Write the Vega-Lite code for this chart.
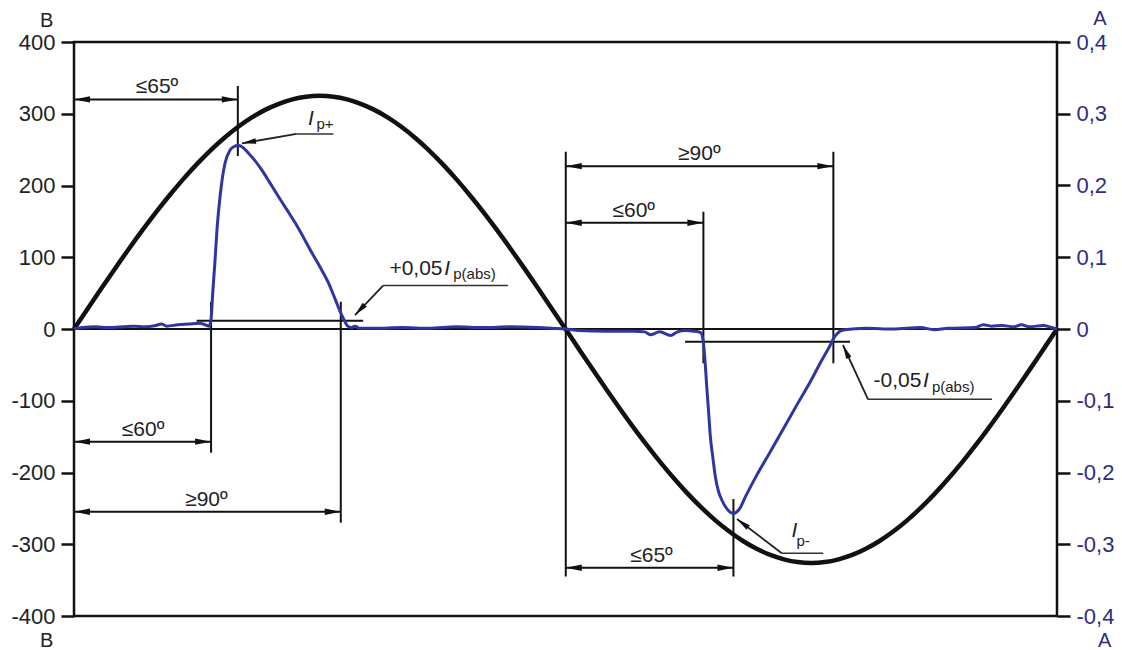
{
  "$schema": "https://vega.github.io/schema/vega-lite/v6.json",
  "width": 983,
  "height": 574,
  "autosize": "none",
  "padding": {"left": 74, "top": 42, "right": 65, "bottom": 34},
  "background": "white",
  "config": {
    "view": {"stroke": "#111111", "strokeWidth": 2.5},
    "font": "Liberation Sans",
    "text": {"font": "Liberation Sans"}
  },
  "datasets": {
    "sine": [
      {"x": 0, "y": 0}, {"x": 5, "y": 28.3}, {"x": 10, "y": 56.4}, {"x": 15, "y": 84.1}, {"x": 20, "y": 111.2},
      {"x": 25, "y": 137.4}, {"x": 30, "y": 162.5}, {"x": 35, "y": 186.4}, {"x": 40, "y": 208.9}, {"x": 45, "y": 229.8},
      {"x": 50, "y": 249.0}, {"x": 55, "y": 266.2}, {"x": 60, "y": 281.5}, {"x": 65, "y": 294.6}, {"x": 70, "y": 305.4},
      {"x": 75, "y": 313.9}, {"x": 80, "y": 320.1}, {"x": 85, "y": 323.8}, {"x": 90, "y": 325}, {"x": 95, "y": 323.8},
      {"x": 100, "y": 320.1}, {"x": 105, "y": 313.9}, {"x": 110, "y": 305.4}, {"x": 115, "y": 294.6}, {"x": 120, "y": 281.5},
      {"x": 125, "y": 266.2}, {"x": 130, "y": 249.0}, {"x": 135, "y": 229.8}, {"x": 140, "y": 208.9}, {"x": 145, "y": 186.4},
      {"x": 150, "y": 162.5}, {"x": 155, "y": 137.4}, {"x": 160, "y": 111.2}, {"x": 165, "y": 84.1}, {"x": 170, "y": 56.4},
      {"x": 175, "y": 28.3}, {"x": 180, "y": 0}, {"x": 185, "y": -28.4}, {"x": 190, "y": -56.6}, {"x": 195, "y": -84.4},
      {"x": 200, "y": -111.5}, {"x": 205, "y": -137.8}, {"x": 210, "y": -163}, {"x": 215, "y": -187}, {"x": 220, "y": -209.5},
      {"x": 225, "y": -230.5}, {"x": 230, "y": -249.7}, {"x": 235, "y": -267.1}, {"x": 240, "y": -282.3}, {"x": 245, "y": -295.5},
      {"x": 250, "y": -306.3}, {"x": 255, "y": -314.9}, {"x": 260, "y": -321}, {"x": 265, "y": -324.8}, {"x": 270, "y": -326},
      {"x": 275, "y": -324.8}, {"x": 280, "y": -321}, {"x": 285, "y": -314.9}, {"x": 290, "y": -306.3}, {"x": 295, "y": -295.5},
      {"x": 300, "y": -282.3}, {"x": 305, "y": -267.1}, {"x": 310, "y": -249.7}, {"x": 315, "y": -230.5}, {"x": 320, "y": -209.5},
      {"x": 325, "y": -187}, {"x": 330, "y": -163}, {"x": 335, "y": -137.8}, {"x": 340, "y": -111.5}, {"x": 345, "y": -84.4},
      {"x": 350, "y": -56.6}, {"x": 355, "y": -28.4}, {"x": 360, "y": 0}
    ],
    "current": [
      {"x": 0, "a": 0}, {"x": 3, "a": 0.002}, {"x": 8, "a": 0.003}, {"x": 12, "a": 0.002}, {"x": 18, "a": 0.003},
      {"x": 22, "a": 0.004}, {"x": 26, "a": 0.003}, {"x": 30, "a": 0.005}, {"x": 32, "a": 0.007}, {"x": 34, "a": 0.004},
      {"x": 38, "a": 0.006}, {"x": 42, "a": 0.007}, {"x": 46, "a": 0.008}, {"x": 48, "a": 0.006}, {"x": 49.5, "a": 0.004},
      {"x": 50.2, "a": 0.014}, {"x": 50.8, "a": 0.05}, {"x": 51.6, "a": 0.093}, {"x": 52.5, "a": 0.145}, {"x": 53.5, "a": 0.185},
      {"x": 54.4, "a": 0.212}, {"x": 55.3, "a": 0.231}, {"x": 57.1, "a": 0.249}, {"x": 58.5, "a": 0.254}, {"x": 60.0, "a": 0.2556},
      {"x": 61.5, "a": 0.254}, {"x": 63.9, "a": 0.245}, {"x": 66.2, "a": 0.235}, {"x": 68.7, "a": 0.222}, {"x": 71.7, "a": 0.204},
      {"x": 74.8, "a": 0.185}, {"x": 78, "a": 0.166}, {"x": 81, "a": 0.148}, {"x": 84, "a": 0.128}, {"x": 87, "a": 0.107},
      {"x": 90, "a": 0.087}, {"x": 93.1, "a": 0.065}, {"x": 95.5, "a": 0.043}, {"x": 97.4, "a": 0.025}, {"x": 99, "a": 0.012},
      {"x": 100, "a": 0.005}, {"x": 101.5, "a": 0.002}, {"x": 103, "a": 0.004}, {"x": 104.5, "a": 0.001}, {"x": 110, "a": 0.001},
      {"x": 120, "a": 0.002}, {"x": 130, "a": 0.001}, {"x": 140, "a": 0.003}, {"x": 150, "a": 0.002}, {"x": 160, "a": 0.003},
      {"x": 170, "a": 0.002}, {"x": 175, "a": 0.001}, {"x": 180, "a": 0}, {"x": 185, "a": -0.002}, {"x": 195, "a": -0.003},
      {"x": 205, "a": -0.003}, {"x": 209, "a": -0.004}, {"x": 211, "a": -0.008}, {"x": 214.5, "a": -0.004}, {"x": 218.5, "a": -0.009},
      {"x": 221, "a": -0.004}, {"x": 224, "a": -0.002}, {"x": 227, "a": -0.003}, {"x": 229.5, "a": -0.005}, {"x": 230.5, "a": -0.019},
      {"x": 231.2, "a": -0.05}, {"x": 231.7, "a": -0.079}, {"x": 232.4, "a": -0.115}, {"x": 233, "a": -0.148}, {"x": 234, "a": -0.18},
      {"x": 234.8, "a": -0.204}, {"x": 236, "a": -0.226}, {"x": 237.2, "a": -0.238}, {"x": 239, "a": -0.25}, {"x": 241.5, "a": -0.257},
      {"x": 243.5, "a": -0.252}, {"x": 246, "a": -0.233}, {"x": 250, "a": -0.204}, {"x": 255, "a": -0.171}, {"x": 259.8, "a": -0.139},
      {"x": 265, "a": -0.104}, {"x": 269.6, "a": -0.074}, {"x": 273.5, "a": -0.046}, {"x": 276.9, "a": -0.023}, {"x": 278.5, "a": -0.011},
      {"x": 279.4, "a": -0.007}, {"x": 281, "a": -0.002}, {"x": 285, "a": 0.0}, {"x": 290, "a": 0.001}, {"x": 300, "a": 0.0},
      {"x": 310, "a": 0.002}, {"x": 315, "a": -0.001}, {"x": 320, "a": 0.001}, {"x": 330, "a": 0.002}, {"x": 333, "a": 0.006},
      {"x": 336, "a": 0.004}, {"x": 340, "a": 0.005}, {"x": 344, "a": 0.003}, {"x": 347, "a": 0.006}, {"x": 350, "a": 0.003},
      {"x": 355, "a": 0.005}, {"x": 358, "a": 0.002}, {"x": 360, "a": 0}
    ],
    "hlines": [
      {"x": 0, "x2": 360, "y": 0},
      {"x": 44.9, "x2": 105.9, "y": 11.6},
      {"x": 223.8, "x2": 284.2, "y": -17.7}
    ],
    "vlines": [
      {"x": 60.0, "y": 338.7, "y2": 241},
      {"x": 50.2, "y": 38, "y2": -172.4},
      {"x": 97.7, "y": 38, "y2": -270},
      {"x": 180.1, "y": 247, "y2": -345},
      {"x": 278.1, "y": 247, "y2": -47.8},
      {"x": 230.5, "y": 163.5, "y2": -47.8},
      {"x": 241.5, "y": -237, "y2": -345}
    ],
    "dims": [
      {"x": 0, "x2": 60.0, "y": 320, "label": "≤65º", "xm": 30.4},
      {"x": 0, "x2": 50.2, "y": -157, "label": "≤60º", "xm": 25.3},
      {"x": 0, "x2": 97.7, "y": -254.6, "label": "≥90º", "xm": 48.5},
      {"x": 180.1, "x2": 278.1, "y": 227, "label": "≥90º", "xm": 229},
      {"x": 180.1, "x2": 230.5, "y": 148, "label": "≤60º", "xm": 205},
      {"x": 180.1, "x2": 241.5, "y": -332.7, "label": "≤65º", "xm": 211.5}
    ],
    "leaders": [
      {"name": "ip_plus", "ux1": 81.5, "ux2": 95.0, "uy": 271.8, "tx": 61.5, "ty": 258.8},
      {"name": "thr_plus", "ux1": 113.2, "ux2": 158.9, "uy": 60.6, "tx": 102.9, "ty": 19.5},
      {"name": "thr_minus", "ux1": 290.8, "ux2": 336.2, "uy": -98, "tx": 281.6, "ty": -22.3},
      {"name": "ip_minus", "ux1": 259.2, "ux2": 274.4, "uy": -312.6, "tx": 242.8, "ty": -264.8}
    ],
    "texts": [
      {"t": "I", "x": 85.7, "y": 284.3, "kind": "ital"},
      {"t": "p+", "x": 88.8, "y": 278.7, "kind": "sub"},
      {"t": "+0,05", "x": 115.5, "y": 75.3, "kind": "main"},
      {"t": "I", "x": 135.6, "y": 75.3, "kind": "ital"},
      {"t": "p(abs)", "x": 138.9, "y": 69.3, "kind": "sub"},
      {"t": "-0,05", "x": 292.8, "y": -80.4, "kind": "main"},
      {"t": "I", "x": 310.9, "y": -80.4, "kind": "ital"},
      {"t": "p(abs)", "x": 314.2, "y": -87.4, "kind": "sub"},
      {"t": "I", "x": 262.8, "y": -289.5, "kind": "ital"},
      {"t": "p-", "x": 264.6, "y": -302, "kind": "sub"}
    ],
    "units": [
      {"t": "B", "x": -10.0, "y": 421.5, "side": "left"},
      {"t": "B", "x": -10.0, "y": -443.0, "side": "left"},
      {"t": "A", "x": 375.7, "y": 423.5, "side": "right"},
      {"t": "A", "x": 377.5, "y": -443.0, "side": "right"}
    ]
  },
  "layer": [
    {
      "data": {"name": "hlines"},
      "mark": {"type": "rule", "color": "#111111", "strokeWidth": 2},
      "encoding": {
        "x": {"field": "x", "type": "quantitative", "scale": {"domain": [0, 360], "nice": false, "zero": false}, "axis": null},
        "x2": {"field": "x2"},
        "y": {"field": "y", "type": "quantitative", "scale": {"domain": [-400, 400], "nice": false, "zero": false}, "axis": null}
      }
    },
    {
      "data": {"name": "sine"},
      "mark": {"type": "line", "color": "#111111", "strokeWidth": 4.5, "interpolate": "monotone"},
      "encoding": {
        "x": {"field": "x", "type": "quantitative", "scale": {"domain": [0, 360], "nice": false, "zero": false}, "axis": null},
        "y": {
          "field": "y", "type": "quantitative",
          "scale": {"domain": [-400, 400], "nice": false, "zero": false},
          "axis": {
            "orient": "left", "title": null, "grid": false, "domain": false,
            "values": [-400, -300, -200, -100, 0, 100, 200, 300, 400],
            "labelExpr": "'' + datum.value",
            "tickSize": 13, "tickWidth": 2.5, "tickColor": "#111111",
            "labelPadding": 6, "labelFontSize": 22, "labelColor": "#222222",
            "labelFont": "Liberation Sans", "labelOverlap": false, "labelBound": false, "labelFlush": false
          }
        }
      }
    },
    {
      "data": {"name": "vlines"},
      "mark": {"type": "rule", "color": "#111111", "strokeWidth": 2},
      "encoding": {
        "x": {"field": "x", "type": "quantitative", "scale": {"domain": [0, 360], "nice": false, "zero": false}, "axis": null},
        "y": {"field": "y", "type": "quantitative", "scale": {"domain": [-400, 400], "nice": false, "zero": false}, "axis": null},
        "y2": {"field": "y2"}
      }
    },
    {
      "data": {"name": "dims"},
      "mark": {"type": "rule", "color": "#111111", "strokeWidth": 2},
      "encoding": {
        "x": {"field": "x", "type": "quantitative", "scale": {"domain": [0, 360], "nice": false, "zero": false}, "axis": null},
        "x2": {"field": "x2"},
        "y": {"field": "y", "type": "quantitative", "scale": {"domain": [-400, 400], "nice": false, "zero": false}, "axis": null}
      }
    },
    {
      "data": {"name": "dims"},
      "mark": {"type": "point", "shape": "M0,0L-2,-0.4L-2,0.4Z", "filled": true, "color": "#111111", "size": 256, "angle": 180, "opacity": 1, "strokeWidth": 0},
      "encoding": {
        "x": {"field": "x", "type": "quantitative", "scale": {"domain": [0, 360], "nice": false, "zero": false}, "axis": null},
        "y": {"field": "y", "type": "quantitative", "scale": {"domain": [-400, 400], "nice": false, "zero": false}, "axis": null}
      }
    },
    {
      "data": {"name": "dims"},
      "mark": {"type": "point", "shape": "M0,0L-2,-0.4L-2,0.4Z", "filled": true, "color": "#111111", "size": 256, "angle": 0, "opacity": 1, "strokeWidth": 0},
      "encoding": {
        "x": {"field": "x2", "type": "quantitative", "scale": {"domain": [0, 360], "nice": false, "zero": false}, "axis": null},
        "y": {"field": "y", "type": "quantitative", "scale": {"domain": [-400, 400], "nice": false, "zero": false}, "axis": null}
      }
    },
    {
      "data": {"name": "dims"},
      "mark": {"type": "text", "fontSize": 21, "color": "#222222", "align": "center", "baseline": "alphabetic", "dy": -6},
      "encoding": {
        "x": {"field": "xm", "type": "quantitative", "scale": {"domain": [0, 360], "nice": false, "zero": false}, "axis": null},
        "y": {"field": "y", "type": "quantitative", "scale": {"domain": [-400, 400], "nice": false, "zero": false}, "axis": null},
        "text": {"field": "label"}
      }
    },
    {
      "data": {"name": "leaders"},
      "mark": {"type": "rule", "color": "#333333", "strokeWidth": 1.5},
      "encoding": {
        "x": {"field": "ux1", "type": "quantitative", "scale": {"domain": [0, 360], "nice": false, "zero": false}, "axis": null},
        "x2": {"field": "ux2"},
        "y": {"field": "uy", "type": "quantitative", "scale": {"domain": [-400, 400], "nice": false, "zero": false}, "axis": null}
      }
    },
    {
      "data": {"name": "leaders"},
      "mark": {"type": "rule", "color": "#222222", "strokeWidth": 1.8},
      "encoding": {
        "x": {"field": "ux1", "type": "quantitative", "scale": {"domain": [0, 360], "nice": false, "zero": false}, "axis": null},
        "x2": {"field": "tx"},
        "y": {"field": "uy", "type": "quantitative", "scale": {"domain": [-400, 400], "nice": false, "zero": false}, "axis": null},
        "y2": {"field": "ty"}
      }
    },
    {
      "data": {"name": "leaders"},
      "transform": [{"filter": {"field": "name", "equal": "ip_plus"}}],
      "mark": {"type": "point", "shape": "M0,0L-2,-0.4L-2,0.4Z", "filled": true, "color": "#111111", "size": 200, "angle": 170.3, "opacity": 1, "strokeWidth": 0},
      "encoding": {
        "x": {"field": "tx", "type": "quantitative", "scale": {"domain": [0, 360], "nice": false, "zero": false}, "axis": null},
        "y": {"field": "ty", "type": "quantitative", "scale": {"domain": [-400, 400], "nice": false, "zero": false}, "axis": null}
      }
    },
    {
      "data": {"name": "leaders"},
      "transform": [{"filter": {"field": "name", "equal": "thr_plus"}}],
      "mark": {"type": "point", "shape": "M0,0L-2,-0.4L-2,0.4Z", "filled": true, "color": "#111111", "size": 200, "angle": 133.5, "opacity": 1, "strokeWidth": 0},
      "encoding": {
        "x": {"field": "tx", "type": "quantitative", "scale": {"domain": [0, 360], "nice": false, "zero": false}, "axis": null},
        "y": {"field": "ty", "type": "quantitative", "scale": {"domain": [-400, 400], "nice": false, "zero": false}, "axis": null}
      }
    },
    {
      "data": {"name": "leaders"},
      "transform": [{"filter": {"field": "name", "equal": "thr_minus"}}],
      "mark": {"type": "point", "shape": "M0,0L-2,-0.4L-2,0.4Z", "filled": true, "color": "#111111", "size": 200, "angle": 245.3, "opacity": 1, "strokeWidth": 0},
      "encoding": {
        "x": {"field": "tx", "type": "quantitative", "scale": {"domain": [0, 360], "nice": false, "zero": false}, "axis": null},
        "y": {"field": "ty", "type": "quantitative", "scale": {"domain": [-400, 400], "nice": false, "zero": false}, "axis": null}
      }
    },
    {
      "data": {"name": "leaders"},
      "transform": [{"filter": {"field": "name", "equal": "ip_minus"}}],
      "mark": {"type": "point", "shape": "M0,0L-2,-0.4L-2,0.4Z", "filled": true, "color": "#111111", "size": 200, "angle": 217.5, "opacity": 1, "strokeWidth": 0},
      "encoding": {
        "x": {"field": "tx", "type": "quantitative", "scale": {"domain": [0, 360], "nice": false, "zero": false}, "axis": null},
        "y": {"field": "ty", "type": "quantitative", "scale": {"domain": [-400, 400], "nice": false, "zero": false}, "axis": null}
      }
    },
    {
      "data": {"name": "texts"},
      "transform": [{"filter": {"field": "kind", "equal": "main"}}],
      "mark": {"type": "text", "fontSize": 21, "color": "#222222", "align": "left", "baseline": "alphabetic"},
      "encoding": {
        "x": {"field": "x", "type": "quantitative", "scale": {"domain": [0, 360], "nice": false, "zero": false}, "axis": null},
        "y": {"field": "y", "type": "quantitative", "scale": {"domain": [-400, 400], "nice": false, "zero": false}, "axis": null},
        "text": {"field": "t"}
      }
    },
    {
      "data": {"name": "texts"},
      "transform": [{"filter": {"field": "kind", "equal": "ital"}}],
      "mark": {"type": "text", "fontSize": 21, "fontStyle": "italic", "color": "#222222", "align": "left", "baseline": "alphabetic"},
      "encoding": {
        "x": {"field": "x", "type": "quantitative", "scale": {"domain": [0, 360], "nice": false, "zero": false}, "axis": null},
        "y": {"field": "y", "type": "quantitative", "scale": {"domain": [-400, 400], "nice": false, "zero": false}, "axis": null},
        "text": {"field": "t"}
      }
    },
    {
      "data": {"name": "texts"},
      "transform": [{"filter": {"field": "kind", "equal": "sub"}}],
      "mark": {"type": "text", "fontSize": 15, "color": "#222222", "align": "left", "baseline": "alphabetic"},
      "encoding": {
        "x": {"field": "x", "type": "quantitative", "scale": {"domain": [0, 360], "nice": false, "zero": false}, "axis": null},
        "y": {"field": "y", "type": "quantitative", "scale": {"domain": [-400, 400], "nice": false, "zero": false}, "axis": null},
        "text": {"field": "t"}
      }
    },
    {
      "data": {"name": "units"},
      "mark": {"type": "text", "fontSize": 20, "align": "center", "baseline": "alphabetic"},
      "encoding": {
        "x": {"field": "x", "type": "quantitative", "scale": {"domain": [0, 360], "nice": false, "zero": false}, "axis": null},
        "y": {"field": "y", "type": "quantitative", "scale": {"domain": [-400, 400], "nice": false, "zero": false}, "axis": null},
        "text": {"field": "t"},
        "color": {"field": "side", "type": "nominal", "scale": {"domain": ["left", "right"], "range": ["#222222", "#2b2e83"]}, "legend": null}
      }
    },
    {
      "data": {"name": "current"},
      "mark": {"type": "line", "color": "#3036a0", "strokeWidth": 3, "interpolate": "monotone"},
      "encoding": {
        "x": {"field": "x", "type": "quantitative", "scale": {"domain": [0, 360], "nice": false, "zero": false}, "axis": null},
        "y": {
          "field": "a", "type": "quantitative",
          "scale": {"domain": [-0.4, 0.4], "nice": false, "zero": false},
          "axis": {
            "orient": "right", "title": null, "grid": false, "domain": false,
            "values": [-0.4, -0.3, -0.2, -0.1, 0, 0.1, 0.2, 0.3, 0.4],
            "labelExpr": "replace('' + datum.value, '.', ',')",
            "tickSize": 13, "tickWidth": 2.5, "tickColor": "#111111",
            "labelPadding": 6, "labelFontSize": 22, "labelColor": "#2b2e83",
            "labelFont": "Liberation Sans", "labelOverlap": false, "labelBound": false, "labelFlush": false
          }
        }
      }
    }
  ],
  "resolve": {"scale": {"y": "independent"}}
}
